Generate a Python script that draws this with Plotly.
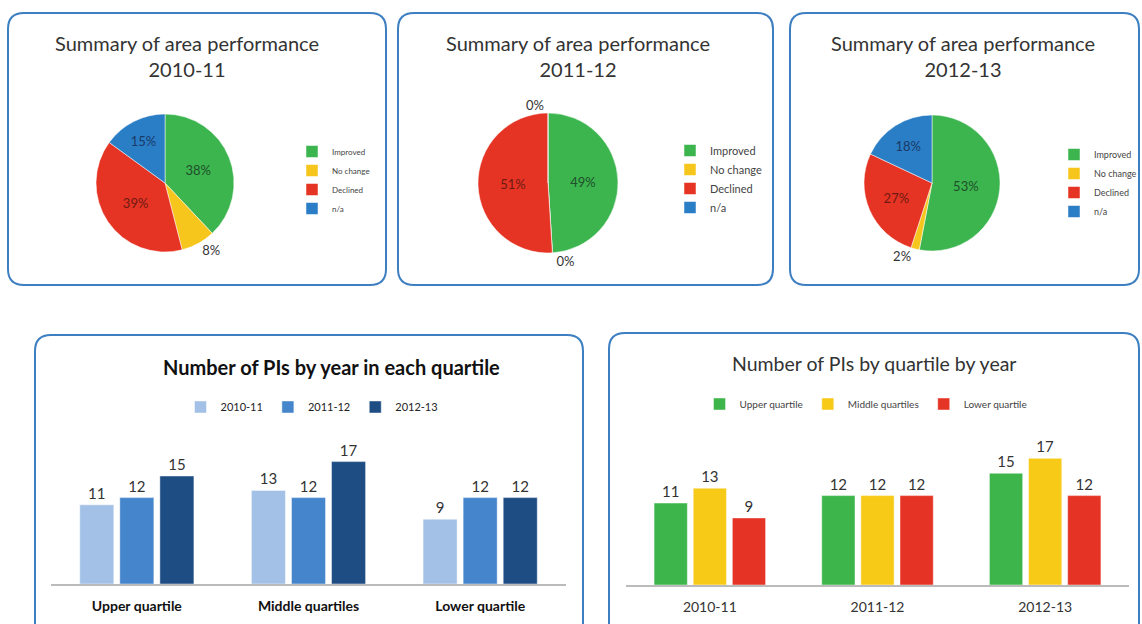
import plotly.graph_objects as go

W, H = 1142, 624

# ---------------- data ----------------
pie_labels = ["Improved", "No change", "Declined", "n/a"]
pie_years = ["2010-11", "2011-12", "2012-13"]
pie_2010 = [38, 8, 39, 15]
pie_2011 = [49, 0, 51, 0]
pie_2012 = [53, 2, 27, 18]
pie_colors = ["#3cb54f", "#f6c61c", "#e63424", "#2a7ec6"]
pie_text_colors = ["#1f4f2a", "#333333", "#6e1a12", "#1b3a66"]

quartiles = ["Upper quartile", "Middle quartiles", "Lower quartile"]
years = ["2010-11", "2011-12", "2012-13"]
pis_2010 = [11, 13, 9]
pis_2011 = [12, 12, 12]
pis_2012 = [15, 17, 12]
year_colors = ["#a3c1e6", "#4585cc", "#1e4d84"]
quart_colors = ["#3db54a", "#f7ca18", "#e53425"]

FONT = "Lato"


def px_x(a, b):
    return [a / W, b / W]


def px_y(top, bottom):
    return [1 - bottom / H, 1 - top / H]


fig = go.Figure()

# ---------------- pies ----------------
pie_sets = [pie_2010, pie_2011, pie_2012]
pie_centers = [(165, 183), (548, 183), (932, 183)]
pie_half = [69, 70, 68]
# legend x, legend top y, font size
legend_pos = [(292, 137, 8), (670, 136, 11), (1054, 140, 9)]
for i, (vals, (cx, cy), hh) in enumerate(zip(pie_sets, pie_centers, pie_half)):
    total = sum(vals)
    pos = ["inside" if v / total >= 0.1 else "outside" for v in vals]
    fig.add_trace(go.Pie(
        labels=[lab + "\u200b" * i for lab in pie_labels], values=vals,
        sort=False, direction="clockwise", rotation=0,
        marker=dict(colors=pie_colors, line=dict(color="#ffffff", width=0.5)),
        texttemplate="%{percent:.0%}",
        textposition=pos,
        insidetextfont=dict(family=FONT, size=13, color=pie_text_colors),
        outsidetextfont=dict(family=FONT, size=13, color="#333333"),
        domain=dict(x=px_x(cx - hh, cx + hh), y=px_y(cy - hh, cy + hh)),
        legend="legend" if i == 0 else f"legend{i+1}",
        showlegend=True, hoverinfo="label+percent",
    ))

# ---------------- bar chart 1 ----------------
for yr, vals, col in zip(years, [pis_2010, pis_2011, pis_2012], year_colors):
    fig.add_trace(go.Bar(
        x=quartiles, y=vals, name=yr,
        marker=dict(color=col, line=dict(color="rgba(255,255,255,0.45)", width=1)),
        text=vals, textposition="outside", cliponaxis=False,
        textfont=dict(family=FONT, size=15, color="#333333"),
        xaxis="x", yaxis="y", legend="legend4",
    ))

# ---------------- bar chart 2 ----------------
series_by_quart = [[pis_2010[k], pis_2011[k], pis_2012[k]] for k in range(3)]
for q, vals, col in zip(quartiles, series_by_quart, quart_colors):
    fig.add_trace(go.Bar(
        x=years, y=vals, name=q,
        marker=dict(color=col, line=dict(color="rgba(255,255,255,0.45)", width=1)),
        text=vals, textposition="outside", cliponaxis=False,
        textfont=dict(family=FONT, size=15, color="#333333"),
        xaxis="x2", yaxis="y2", legend="legend5",
    ))

# ---------------- boxes ----------------
def rounded(x0, y0, x1, y1, r=16):
    X = lambda v: v / W
    Y = lambda v: 1 - v / H
    p = (f"M {X(x0 + r)},{Y(y0)} L {X(x1 - r)},{Y(y0)} "
         f"Q {X(x1)},{Y(y0)} {X(x1)},{Y(y0 + r)} "
         f"L {X(x1)},{Y(y1 - r)} Q {X(x1)},{Y(y1)} {X(x1 - r)},{Y(y1)} "
         f"L {X(x0 + r)},{Y(y1)} Q {X(x0)},{Y(y1)} {X(x0)},{Y(y1 - r)} "
         f"L {X(x0)},{Y(y0 + r)} Q {X(x0)},{Y(y0)} {X(x0 + r)},{Y(y0)} Z")
    return dict(type="path", xref="paper", yref="paper", path=p,
                line=dict(color="#3d7fc1", width=2), layer="below")

shapes = [
    rounded(8, 13, 386, 285),
    rounded(398, 13, 773, 285),
    rounded(790, 13, 1139, 285),
    rounded(35, 335, 583, 640),
    rounded(609, 333, 1139, 640),
]

# ---------------- titles ----------------
ann = []
titles_pie = [(187, "2010-11"), (578, "2011-12"), (963, "2012-13")]
for x, yr in titles_pie:
    ann.append(dict(x=x / W, y=1 - 56 / H, xref="paper", yref="paper",
                    text=f"Summary of area performance<br>{yr}", showarrow=False,
                    font=dict(family=FONT, size=20, color="#333333"),
                    xanchor="center", yanchor="middle", align="center"))
ann.append(dict(x=331 / W, y=1 - 367 / H, xref="paper", yref="paper",
                text="<b>Number of PIs by year in each quartile</b>", showarrow=False,
                font=dict(family=FONT, size=20, color="#111111"),
                xanchor="center", yanchor="middle"))
ann.append(dict(x=874 / W, y=1 - 363 / H, xref="paper", yref="paper",
                text="Number of PIs by quartile by year", showarrow=False,
                font=dict(family=FONT, size=19.5, color="#333333"),
                xanchor="center", yanchor="middle"))

layout_legends = {}
for i, (lx, ly, fs) in enumerate(legend_pos):
    key = "legend" if i == 0 else f"legend{i+1}"
    layout_legends[key] = dict(x=lx / W, y=1 - ly / H, xanchor="left", yanchor="top",
                               font=dict(family=FONT, size=fs, color="#444444"),
                               bgcolor="rgba(0,0,0,0)", itemclick=False, itemwidth=30)
layout_legends["legend4"] = dict(x=312 / W, y=1 - 407 / H, xanchor="center", yanchor="middle",
                                 orientation="h", font=dict(family=FONT, size=11, color="#222222"),
                                 bgcolor="rgba(0,0,0,0)", traceorder="normal", itemwidth=30)
layout_legends["legend5"] = dict(x=866 / W, y=1 - 404 / H, xanchor="center", yanchor="middle",
                                 orientation="h", font=dict(family=FONT, size=10, color="#444444"),
                                 bgcolor="rgba(0,0,0,0)", traceorder="normal", itemwidth=30)

fig.update_layout(
    width=W, height=H, margin=dict(l=0, r=0, t=0, b=0),
    paper_bgcolor="white", plot_bgcolor="rgba(0,0,0,0)",
    barmode="group", bargap=0.3, bargroupgap=0.15,
    shapes=shapes, annotations=ann,
    xaxis=dict(domain=px_x(51, 566), anchor="y", type="category",
               showline=True, linecolor="#bbbbbb", linewidth=1.5,
               ticks="", showgrid=False, ticklabelstandoff=8,
               tickmode="array", tickvals=quartiles,
               ticktext=[f"<b>{q}</b>" for q in quartiles],
               tickfont=dict(family=FONT, size=14, color="#111111")),
    yaxis=dict(domain=px_y(440, 584), anchor="x", range=[0, 20], visible=False, showgrid=False),
    xaxis2=dict(domain=px_x(626, 1129), anchor="y2", type="category",
                showline=True, linecolor="#bbbbbb", linewidth=1.5,
                ticks="", showgrid=False, ticklabelstandoff=8,
                tickfont=dict(family=FONT, size=14, color="#333333")),
    yaxis2=dict(domain=px_y(436, 585), anchor="x2", range=[0, 20], visible=False, showgrid=False),
    **layout_legends,
)

fig.write_html("out.html", config={"displayModeBar": False},
               post_script="document.body.style.margin='0px';")
